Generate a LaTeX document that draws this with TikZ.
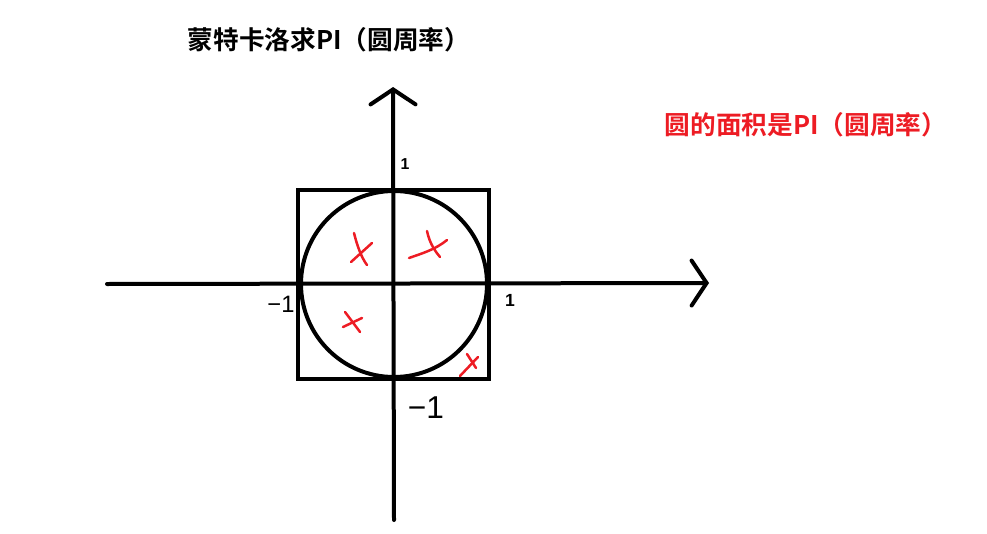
\documentclass[tikz,border=0pt]{standalone}
\usepackage{fontspec}
\setmainfont{Liberation Sans}
\newfontfamily\cjk{Noto Sans CJK SC}[BoldFont={Noto Sans CJK SC Bold}]
\usepackage{tikz}
\usetikzlibrary{arrows.meta}
\definecolor{paintred}{RGB}{237,28,36}
\tikzset{
  axisline/.style={line width=0.08cm, line cap=round,
    -{Straight Barb[length=0.3cm, width=0.9cm, line cap=round]}},
  figline/.style={line width=0.08cm},
  xmark/.style={draw=paintred, line width=0.05cm, line cap=round},
  titletext/.style={font=\cjk\bfseries\fontsize{14.6pt}{17pt}\selectfont,
    inner sep=0pt},
  ticklabel/.style={inner sep=0pt},
}
\begin{document}
\begin{tikzpicture}[x=0.02cm, y=-0.02cm]
  \useasboundingbox (0,0) rectangle (987,534);
  % Titles
  \node[titletext] (title) at (329,40) {蒙特卡洛求PI（圆周率）};
  \node[titletext, text=paintred] (note) at (806,125) {圆的面积是PI（圆周率）};
  % Axes
  \coordinate (xleft)  at (107,284);
  \coordinate (xright) at (709,283);
  \coordinate (ybot)   at (394,520);
  \coordinate (ytop)   at (393,87);
  \draw[axisline] (xleft) -- (xright);
  \draw[axisline] (ybot) -- (ytop);
  % Square and circle
  \draw[figline] (298,190) rectangle (489,379);
  \draw[figline] (394,284) circle[radius=93];
  % Tick labels
  \node[ticklabel, font=\bfseries\fontsize{9pt}{10pt}\selectfont] (ytick) at (405,164) {1};
  \node[ticklabel, font=\bfseries\fontsize{10pt}{11pt}\selectfont] (xtick) at (510,300) {1};
  \node[ticklabel, font=\fontsize{13.5pt}{15pt}\selectfont] (xneg) at (281,304) {−1};
  \node[ticklabel, font=\fontsize{18pt}{20pt}\selectfont] (yneg) at (426,408) {−1};
  % Random points
  \draw[xmark] (354,233) .. controls (357,245) and (361,257) .. (367,265);
  \draw[xmark] (372,243) -- (351,262);
  \draw[xmark] (427,231) .. controls (430,245) and (436,252) .. (440,257);
  \draw[xmark] (409,258) .. controls (420,254) and (435,250) .. (447,240);
  \draw[xmark] (345,312) -- (360,332);
  \draw[xmark] (362,318) -- (343,327);
  \draw[xmark] (467,354) -- (476,368);
  \draw[xmark] (478,357) -- (460,376);
\end{tikzpicture}
\end{document}
